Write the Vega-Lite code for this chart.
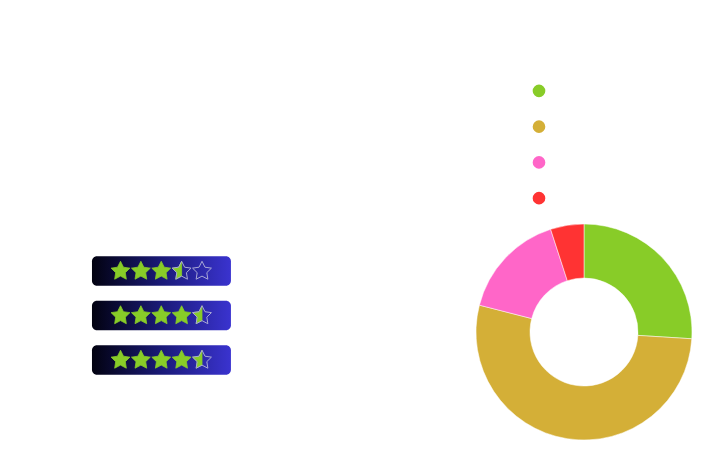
{
  "$schema": "https://vega.github.io/schema/vega-lite/v6.json",
  "padding": 0,
  "background": "white",
  "config": {"view": {"stroke": null}},
  "datasets": {
    "badges": [
      {"item": "Product 1", "rating": 3.5},
      {"item": "Product 2", "rating": 4.5},
      {"item": "Product 3", "rating": 4.5}
    ],
    "stars": [
      {"item": "Product 1", "star": 1, "state": "full"},
      {"item": "Product 1", "star": 2, "state": "full"},
      {"item": "Product 1", "star": 3, "state": "full"},
      {"item": "Product 1", "star": 4, "state": "half"},
      {"item": "Product 1", "star": 5, "state": "empty"},
      {"item": "Product 2", "star": 1, "state": "full"},
      {"item": "Product 2", "star": 2, "state": "full"},
      {"item": "Product 2", "star": 3, "state": "full"},
      {"item": "Product 2", "star": 4, "state": "full"},
      {"item": "Product 2", "star": 5, "state": "half"},
      {"item": "Product 3", "star": 1, "state": "full"},
      {"item": "Product 3", "star": 2, "state": "full"},
      {"item": "Product 3", "star": 3, "state": "full"},
      {"item": "Product 3", "star": 4, "state": "full"},
      {"item": "Product 3", "star": 5, "state": "half"}
    ],
    "share": [
      {"category": "Category 1", "share": 26, "idx": 1},
      {"category": "Category 2", "share": 53, "idx": 2},
      {"category": "Category 3", "share": 16, "idx": 3},
      {"category": "Category 4", "share": 5, "idx": 4}
    ]
  },
  "hconcat": [
    {
      "width": 455,
      "height": 450,
      "layer": [
        {
          "data": {"name": "badges"},
          "mark": {
            "type": "rect",
            "cornerRadius": 5,
            "fill": {
              "gradient": "linear",
              "x1": 0, "y1": 0, "x2": 1, "y2": 0,
              "stops": [
                {"offset": 0, "color": "#020210"},
                {"offset": 0.5, "color": "#1a1a78"},
                {"offset": 1, "color": "#3a33cf"}
              ]
            }
          },
          "encoding": {
            "y": {
              "field": "item", "type": "nominal",
              "scale": {"range": [248.75, 382.25], "paddingInner": 0.337, "paddingOuter": 0.1685},
              "axis": null
            },
            "x": {
              "datum": -0.4, "type": "quantitative",
              "scale": {"domain": [1, 5], "range": [120.5, 202], "nice": false, "zero": false},
              "axis": null
            },
            "x2": {"datum": 6.42}
          }
        },
        {
          "data": {"name": "stars"},
          "transform": [{"filter": "datum.state != 'empty'"}],
          "mark": {"type": "point", "filled": true, "size": 420, "opacity": 1, "fill": "#88cc28", "stroke": "#88cc28", "strokeWidth": 0.8, "strokeJoin": "round"},
          "encoding": {
            "x": {"field": "star", "type": "quantitative"},
            "y": {"field": "item", "type": "nominal"},
            "shape": {
              "field": "state", "type": "nominal",
              "scale": {
                "domain": ["full", "half"],
                "range": [
                  "M0,-0.95L0.29,-0.37L0.92,-0.28L0.47,0.16L0.57,0.8L0,0.5L-0.57,0.8L-0.47,0.16L-0.92,-0.28L-0.29,-0.37Z",
                  "M0,-0.95L0,0.5L-0.57,0.8L-0.47,0.16L-0.92,-0.28L-0.29,-0.37Z"
                ]
              },
              "legend": null
            }
          }
        },
        {
          "data": {"name": "stars"},
          "transform": [{"filter": "datum.state != 'full'"}],
          "mark": {
            "type": "point", "filled": false, "size": 420, "opacity": 1,
            "stroke": "#a9a9d6", "strokeWidth": 1, "strokeJoin": "round",
            "shape": "M0,-0.95L0.29,-0.37L0.92,-0.28L0.47,0.16L0.57,0.8L0,0.5L-0.57,0.8L-0.47,0.16L-0.92,-0.28L-0.29,-0.37Z"
          },
          "encoding": {
            "x": {"field": "star", "type": "quantitative"},
            "y": {"field": "item", "type": "nominal"}
          }
        }
      ]
    },
    {
      "spacing": 8,
      "vconcat": [
        {
          "width": 126,
          "height": 215,
          "data": {"name": "share"},
          "layer": [
            {
              "mark": {"type": "circle", "size": 160, "opacity": 1},
              "encoding": {
                "y": {
                  "field": "category", "type": "nominal",
                  "scale": {"range": [73, 216], "paddingInner": 0, "paddingOuter": 0},
                  "axis": null
                },
                "color": {
                  "field": "category", "type": "nominal",
                  "scale": {"domain": ["Category 1", "Category 2", "Category 3", "Category 4"], "range": ["#88cc28", "#d4af37", "#ff66c8", "#ff3333"]},
                  "legend": null
                }
              }
            },
            {
              "mark": {"type": "text", "align": "left", "dx": 14, "fontSize": 13, "font": "Open Sans", "color": "#ffffff"},
              "encoding": {
                "y": {"field": "category", "type": "nominal"},
                "text": {"field": "category"}
              }
            }
          ]
        },
        {
          "width": 216,
          "height": 216,
          "data": {"name": "share"},
          "mark": {"type": "arc", "innerRadius": 54, "outerRadius": 108, "stroke": "#ffffff", "strokeWidth": 0.5},
          "encoding": {
            "theta": {"field": "share", "type": "quantitative"},
            "order": {"field": "idx", "type": "quantitative"},
            "color": {
              "field": "category", "type": "nominal",
              "scale": {"domain": ["Category 1", "Category 2", "Category 3", "Category 4"], "range": ["#88cc28", "#d4af37", "#ff66c8", "#ff3333"]},
              "legend": null
            }
          }
        }
      ]
    }
  ],
  "spacing": 20
}
